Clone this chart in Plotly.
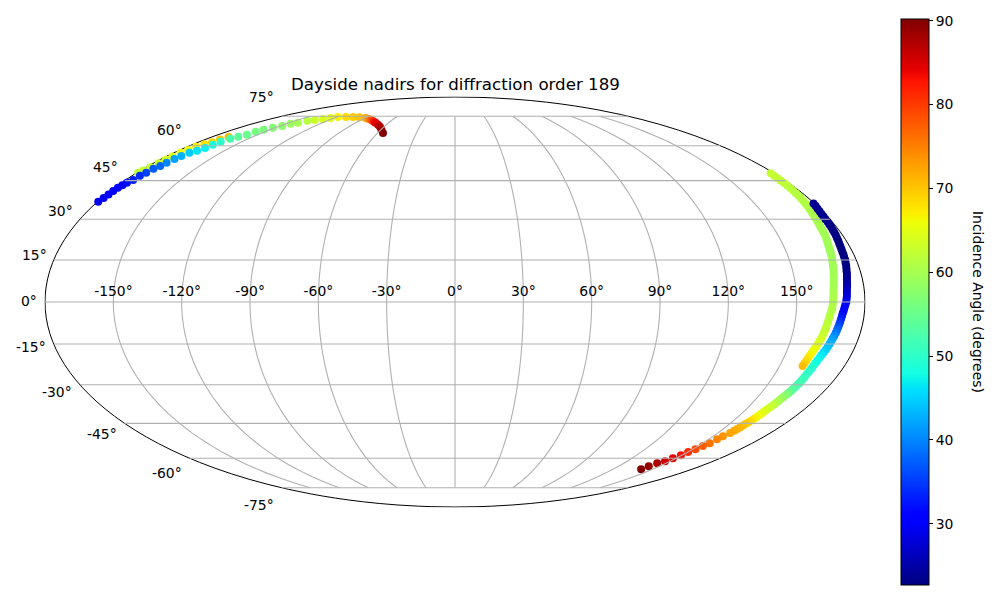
import plotly.graph_objects as go

# ---- data ----------------------------------------------------

# first pass, starts behind the upper-left track, wraps to the right edge
lat_a = [48.2, 49.2, 50.5, 52.2, 53.7, 55.2, 56.8, 58.1, 59.5, 60.7, 61.6, 62.9, 64.1,
         48, 47, 46, 45, 44, 43, 42, 41, 40, 39,
         38, 37, 36, 35, 34, 33, 32, 31, 30, 29,
         28, 27, 26, 25, 24, 23, 22, 21, 20, 19,
         18, 17, 16, 15, 14, 13, 12, 11, 10, 9,
         8, 7, 6, 5, 4, 3, 2, 1, 0, -1,
         -2, -3, -4, -5, -6, -7, -8, -9, -10, -11,
         -12, -13, -14, -15, -16, -17, -18, -19, -20, -21,
         -22, -23]
lon_a = [-179.2, -178.5, -177.4, -176.7, -176.4, -176.3, -175.8, -174.8, -174.0, -172.4, -170.2, -169.2, -167.5,
         178.0, 177.8, 177.7, 177.5, 177.4, 177.2, 177.0, 176.8, 176.6, 176.4,
         176.1, 175.8, 175.5, 175.2, 174.8, 174.4, 174.0, 173.7, 173.3, 173.0,
         172.7, 172.4, 172.2, 172.0, 171.8, 171.5, 171.1, 170.8, 170.5, 170.2,
         170.0, 169.7, 169.5, 169.2, 168.9, 168.6, 168.4, 168.1, 167.8, 167.5,
         167.3, 167.0, 166.8, 166.6, 166.4, 166.3, 166.2, 166.1, 166.0, 165.8,
         165.7, 165.4, 165.1, 164.9, 164.7, 164.5, 164.3, 164.2, 164.0, 163.8,
         163.6, 163.4, 163.0, 162.7, 162.4, 162.0, 161.7, 161.4, 161.2, 161.0,
         160.8, 160.6]
inc_a = [62.0, 62.5, 63.0, 63.5, 64.0, 65.0, 65.5, 66.0, 67.0, 68.0, 69.0, 70.0, 71.0,
         62.5, 62.4, 62.3, 62.1, 62.0, 61.8, 61.7, 61.6, 61.5, 61.3,
         61.2, 61.0, 60.9, 60.8, 60.6, 60.5, 60.4, 60.3, 60.2, 60.1,
         60.0, 59.9, 59.9, 59.8, 59.7, 59.7, 59.6, 59.6, 59.5, 59.5,
         59.5, 59.5, 59.5, 59.5, 59.5, 59.5, 59.5, 59.6, 59.6, 59.7,
         59.7, 59.8, 59.8, 59.9, 60.0, 60.1, 60.2, 60.4, 60.5, 60.6,
         60.8, 60.9, 61.0, 61.2, 61.4, 61.6, 61.8, 62.0, 62.2, 62.5,
         62.9, 63.3, 63.8, 64.2, 64.8, 65.3, 66.0, 66.7, 67.3, 68.2,
         69.2, 70.5]

# second pass, right edge down to the lower dots
lat_b = [36, 35, 34, 33, 32, 31, 30, 29, 28, 27,
         26, 25, 24, 23, 22, 21, 20, 19, 18, 17,
         16, 15, 14, 13, 12, 11, 10, 9, 8, 7,
         6, 5, 4, 3, 2, 1, 0, -1, -2, -3,
         -4, -5, -6, -7, -8, -9, -10, -11, -12, -13,
         -14, -15, -16, -17, -18, -19, -20, -21, -22, -23,
         -24, -25, -26, -27,
         -27.7, -28.4, -29.1, -29.8, -30.5, -31.2, -31.9, -32.6, -33.3, -34.0,
         -34.7, -35.4, -36.1, -36.8, -37.5, -38.2, -38.9, -39.6, -40.3, -41.0,
         -41.7, -42.4, -43.1, -43.8, -44.5, -45.2, -45.9, -46.6, -47.3, -48.0,
         -49.0, -50.3, -51.6, -53.3, -54.5, -55.9, -57.2, -58.6, -60.0, -61.4, -62.3, -63.7, -65.2]
lon_b = [179.5, 179.2, 178.8, 178.5, 178.2, 178.0, 177.8, 177.7, 177.5, 177.4,
         177.2, 177.0, 176.8, 176.5, 176.3, 176.0, 175.8, 175.6, 175.4, 175.3,
         175.1, 175.0, 174.7, 174.5, 174.2, 173.9, 173.7, 173.4, 173.1, 172.9,
         172.7, 172.5, 172.3, 172.2, 172.1, 171.9, 171.8, 171.4, 171.1, 170.8,
         170.5, 170.3, 170.1, 169.9, 169.7, 169.5, 169.3, 169.1, 168.8, 168.5,
         168.3, 168.0, 167.7, 167.4, 167.0, 166.6, 166.3, 166.0, 165.7, 165.5,
         165.4, 165.2, 165.0, 164.9,
         164.8, 164.7, 164.6, 164.4, 164.2, 164.0, 163.8, 163.6, 163.3, 163.0,
         162.7, 162.4, 162.2, 162.0, 161.7, 161.4, 161.1, 160.8, 160.5, 160.3,
         160.1, 159.9, 159.7, 159.4, 159.1, 158.8, 158.5, 158.2, 157.9, 157.5,
         157.1, 155.6, 154.9, 154.3, 152.9, 151.7, 150.3, 149.3, 147.8, 146.5, 143.7, 142.0, 141.3]
inc_b = [24.0, 23.8, 23.7, 23.6, 23.5, 23.5, 23.4, 23.3, 23.2, 23.1,
         23.1, 23.0, 22.9, 22.8, 22.8, 22.7, 22.7, 22.7, 22.7, 22.7,
         22.7, 22.7, 22.7, 22.8, 22.9, 23.1, 23.3, 23.6, 24.0, 24.5,
         25.0, 25.7, 26.3, 27.0, 27.7, 28.3, 29.0, 29.7, 30.3, 30.8,
         31.3, 32.2, 33.0, 34.2, 35.4, 36.6, 37.8, 39.0, 40.2, 41.4,
         42.2, 43.0, 43.8, 44.6, 45.5, 46.3, 47.0, 47.6, 48.2, 48.8,
         49.3, 49.8, 50.2, 50.6,
         51.0, 51.3, 51.6, 52.0, 52.4, 52.8, 53.3, 54.5, 56.0, 57.0,
         58.0, 59.0, 59.8, 60.6, 61.6, 62.3, 63.0, 63.7, 64.3, 65.0,
         65.7, 66.5, 67.2, 68.0, 68.8, 69.6, 70.2, 70.8, 71.3, 71.8,
         72.3, 73.5, 74.5, 76.0, 77.5, 79.0, 81.0, 83.0, 84.5, 85.5, 87.5, 89.0, 90.0]

# upper-left track
lat_c = [36.6, 38.1, 39.5, 40.8, 42.1, 43.1, 44.1, 45.3, 47.0, 48.2, 49.9, 51.1, 52.4, 54.1, 55.4, 56.8, 57.7, 59.0,
         60.4, 61.8, 63.3, 64.2, 65.2, 66.7, 67.7, 68.7, 69.7, 70.8, 71.3, 72.4, 72.9, 73.5, 74.0, 74.5, 74.5, 74.5,
         74.4, 74.0, 73.5, 72.9, 72.1, 71.3, 70.3, 69.2, 67.7, 66.1]
lon_c = [-179.5, -179.0, -178.7, -178.4, -178.2, -177.6, -177.0, -175.9, -175.6, -174.6, -174.2, -173.0, -172.4,
         -172.0, -171.2, -170.0, -167.7, -166.4, -165.6, -164.8, -163.3, -160.7, -158.0, -157.1, -154.9, -151.7,
         -148.3, -146.1, -141.8, -138.5, -133.8, -129.1, -124.0, -119.0, -110.8, -103.7, -96.6, -89.0, -84.1, -79.9,
         -75.5, -71.8, -67.3, -63.4, -59.6, -55.9]
inc_c = [29.0, 29.5, 30.0, 30.3, 30.8, 31.2, 32.0, 33.0, 34.0, 35.5, 37.0, 38.0, 40.0, 42.0, 43.0, 44.5, 46.0, 47.0,
         48.0, 50.0, 52.0, 54.0, 55.0, 56.0, 56.5, 57.0, 58.0, 59.0, 60.0, 61.5, 63.0, 64.0, 65.0, 66.5, 68.5, 69.5,
         70.0, 72.0, 75.0, 78.0, 82.0, 84.0, 85.5, 87.0, 88.5, 90.0]

lon_ticks = [-150, -120, -90, -60, -30, 0, 30, 60, 90, 120, 150]
lat_ticks = [-75, -60, -45, -30, -15, 0, 15, 30, 45, 60, 75]
lat_labels = ["-75°", "-60°", "-45°", "-30°", "-15°", "0°", "15°", "30°", "45°", "60°", "75°"]
lat_label_px = [(259, 505), (167, 473), (102, 434), (57, 392), (31, 347), (29, 301),
                (34, 255), (60, 211), (105, 167), (169, 130), (261, 97)]
cbar_ticks = [30, 40, 50, 60, 70, 80, 90]

# matplotlib's jet, plotly's own "Jet" is a bit different
JET = [[0, "rgb(0,0,128)"], [0.11, "rgb(0,0,255)"], [0.125, "rgb(0,0,255)"], [0.34, "rgb(0,219,255)"],
       [0.35, "rgb(0,230,247)"], [0.375, "rgb(20,255,226)"], [0.64, "rgb(238,255,8)"], [0.65, "rgb(247,246,0)"],
       [0.66, "rgb(255,236,0)"], [0.89, "rgb(255,19,0)"], [0.91, "rgb(232,0,0)"], [1, "rgb(128,0,0)"]]

FONT = "DejaVu Sans"
GRID = "#b0b0b0"

fig = go.Figure()

# ---- dots ----------------------------------------------------
for lat, lon, inc in [(lat_a, lon_a, inc_a), (lat_b, lon_b, inc_b), (lat_c, lon_c, inc_c)]:
    fig.add_trace(go.Scattergeo(
        lon=lon, lat=lat, mode="markers", showlegend=False,
        marker=dict(size=8, color=inc, coloraxis="coloraxis", line_width=0),
    ))

# ---- grid goes over the dots, meridians stop at +-75 -----------
for t in lon_ticks:
    fig.add_trace(go.Scattergeo(
        lon=[t] * 76, lat=[-75 + 2 * i for i in range(76)], mode="lines", showlegend=False,
        line=dict(color=GRID, width=1.1), hoverinfo="skip",
    ))
for t in lat_ticks:
    fig.add_trace(go.Scattergeo(
        lon=[-179.9 + 4 * i * 0.99944 for i in range(91)], lat=[t] * 91, mode="lines", showlegend=False,
        line=dict(color=GRID, width=1.1), hoverinfo="skip",
    ))

# longitude labels sit just above the equator
fig.add_trace(go.Scattergeo(
    lon=lon_ticks, lat=[1] * len(lon_ticks), mode="text", showlegend=False,
    text=[f"{t}°" for t in lon_ticks], textposition="top center",
    textfont=dict(family=FONT, size=13.9, color="black"), hoverinfo="skip",
))

annotations = [
    dict(x=px / 1000, y=1 - py / 600, xref="paper", yref="paper", text=s, showarrow=False,
         xanchor="center", yanchor="middle", font=dict(family=FONT, size=13.9, color="black"))
    for s, (px, py) in zip(lat_labels, lat_label_px)
]
annotations.append(dict(x=0.455, y=1 - 84 / 600, xref="paper", yref="paper", showarrow=False,
                        text="Dayside nadirs for diffraction order 189", xanchor="center", yanchor="middle",
                        font=dict(family=FONT, size=16.67, color="black")))
annotations.append(dict(x=0.978, y=1 - 302 / 600, xref="paper", yref="paper", showarrow=False, textangle=90,
                        text="Incidence Angle (degrees)", xanchor="center", yanchor="middle",
                        font=dict(family=FONT, size=13.9, color="black")))

fig.update_layout(
    width=1000, height=600,
    margin=dict(l=0, r=0, t=0, b=0, autoexpand=False),
    paper_bgcolor="white",
    font=dict(family=FONT, color="black"),
    annotations=annotations,
    geo=dict(
        projection_type="mollweide",
        domain=dict(x=[0.045, 0.865], y=[93 / 600, 503 / 600]),
        bgcolor="white",
        showframe=True, framecolor="black", framewidth=1,
        showland=False, showocean=False, showlakes=False, showrivers=False,
        showcountries=False, showcoastlines=False, showsubunits=False,
        lonaxis=dict(showgrid=False), lataxis=dict(showgrid=False),
    ),
    coloraxis=dict(
        colorscale=JET, cmin=22.7, cmax=90.2,
        colorbar=dict(
            x=0.901, xanchor="left", xpad=0, y=1 - 302 / 600, yanchor="middle", ypad=0,
            len=566 / 600, lenmode="fraction", thickness=28, thicknessmode="pixels",
            outlinecolor="black", outlinewidth=1,
            tickvals=cbar_ticks, ticks="outside", ticklen=4, tickwidth=1, tickcolor="black",
            tickfont=dict(family=FONT, size=13.9, color="black"),
        ),
    ),
)

# the page's default body margin would push everything 8px
fig.write_html("out.html", config={"displayModeBar": False},
               post_script="document.body.style.margin='0';")
